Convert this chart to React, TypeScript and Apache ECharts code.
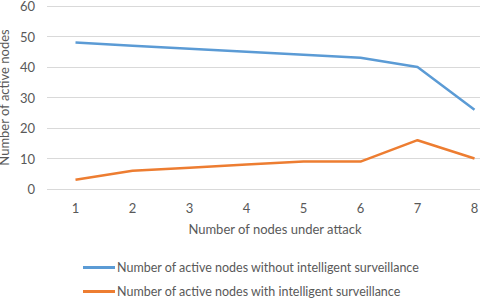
import React, { useEffect, useRef } from "react";
import * as echarts from "echarts";

const categories = ["1", "2", "3", "4", "5", "6", "7", "8"];
const withoutSurveillance = [48, 47, 46, 45, 44, 43, 40, 26];
const withSurveillance = [3, 6, 7, 8, 9, 9, 16, 10];
const seriesNames = [
  "Number of active nodes without intelligent surveillance",
  "Number of active nodes with intelligent surveillance",
];
const xTitle = "Number of nodes under attack";
const yTitle = "Number of active nodes";

const FONT = "Lato";
const GRAY = "#595959";

export default function App() {
  const ref = useRef<HTMLDivElement>(null);
  useEffect(() => {
    if (!ref.current) return;
    const chart = echarts.init(ref.current, null, { renderer: "svg" });
    chart.setOption({
      animation: false,
      textStyle: { fontFamily: FONT },
      grid: {
        left: 47,
        top: 6,
        width: 456,
        height: 183,
        containLabel: false,
        outerBoundsMode: "none",
      },
      legend: {
        orient: "vertical",
        left: 83,
        top: 261,
        height: 40,
        padding: 0,
        itemGap: 11,
        itemWidth: 32,
        itemHeight: 3,
        icon: "rect",
        textStyle: { color: GRAY, fontSize: 12.5, fontFamily: FONT, padding: [0, 0, 0, -3] },
        data: seriesNames,
      },
      xAxis: {
        type: "category",
        data: categories,
        boundaryGap: true,
        axisLine: { show: false },
        axisTick: { show: false },
        axisLabel: { color: GRAY, fontSize: 13, margin: 12, fontFamily: FONT },
        name: xTitle,
        nameLocation: "middle",
        nameGap: 33,
        nameMoveOverlap: false,
        nameTextStyle: { color: GRAY, fontSize: 13, fontFamily: FONT },
      },
      yAxis: {
        type: "value",
        min: 0,
        max: 60,
        interval: 10,
        axisLine: { show: false },
        axisTick: { show: false },
        splitLine: { lineStyle: { color: "#D9D9D9", width: 1 } },
        axisLabel: { color: GRAY, fontSize: 13, margin: 12, fontFamily: FONT },
        name: yTitle,
        nameLocation: "middle",
        nameGap: 37,
        nameMoveOverlap: false,
        nameTextStyle: { color: GRAY, fontSize: 13, fontFamily: FONT },
      },
      series: [
        {
          name: seriesNames[0],
          type: "line",
          data: withoutSurveillance,
          symbol: "none",
          lineStyle: { color: "#5B9BD5", width: 2.5 },
          itemStyle: { color: "#5B9BD5" },
        },
        {
          name: seriesNames[1],
          type: "line",
          data: withSurveillance,
          symbol: "none",
          lineStyle: { color: "#ED7D31", width: 2.5 },
          itemStyle: { color: "#ED7D31" },
        },
      ],
    });
    return () => chart.dispose();
  }, []);
  return <div ref={ref} style={{ width: 480, height: 301, position: "absolute", left: 0, top: 0 }} />;
}
